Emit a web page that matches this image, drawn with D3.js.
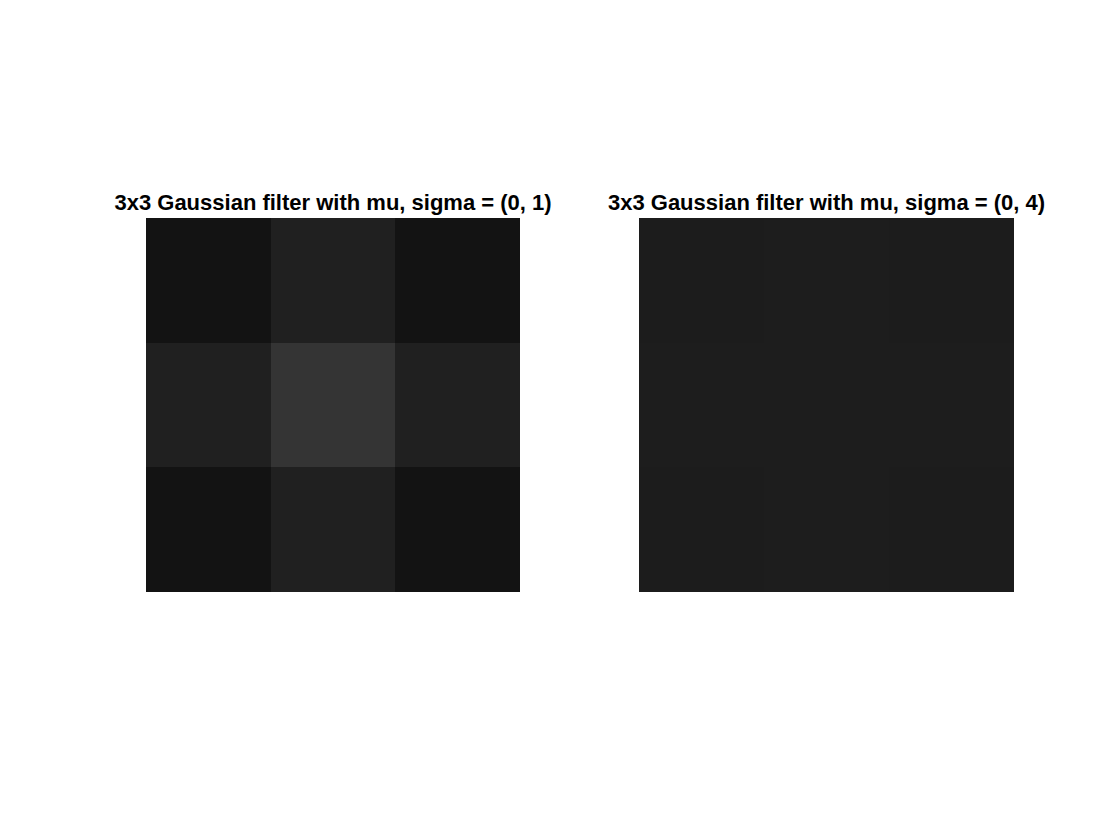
<!DOCTYPE html>
<html>
<head>
<meta charset="utf-8">
<script src="https://cdn.jsdelivr.net/npm/d3@7"></script>
<style>
  body { margin: 0; background: #fff; }
  svg { display: block; }
</style>
</head>
<body>
<div id="chart"></div>
<script>
var w = 1120;
var h = 840;

// 3x3 kernels, row by row
var rows = [0, 1, 2];
var cols = [0, 1, 2];
var kernel1 = [
  [0.0751, 0.1238, 0.0751],
  [0.1238, 0.2042, 0.1238],
  [0.0751, 0.1238, 0.0751]
];
var kernel4 = [
  [0.1096, 0.1118, 0.1096],
  [0.1118, 0.1140, 0.1118],
  [0.1096, 0.1118, 0.1096]
];
var titles = [
  '3x3 Gaussian filter with mu, sigma = (0, 1)',
  '3x3 Gaussian filter with mu, sigma = (0, 4)'
];
var panels = [
  { kernel: kernel1, title: titles[0], x0: 146, x1: 520 },
  { kernel: kernel4, title: titles[1], x0: 639, x1: 1014 }
];
var plotTop = 218, plotBottom = 592;

var gray = d3.scaleLinear().domain([0, 1]).range(['#000000', '#ffffff']).clamp(true);

var svg = d3.select('#chart')
  .append('svg')
  .attr('width', w)
  .attr('height', h);

panels.forEach(function(p) {
  var x = d3.scaleBand().domain(cols).range([p.x0, p.x1]);
  var y = d3.scaleBand().domain(rows).range([plotTop, plotBottom]);
  var g = svg.append('g');
  var cells = [];
  p.kernel.forEach(function(r, i) {
    r.forEach(function(v, j) {
      cells.push({ row: i, col: j, value: v });
    });
  });
  g.selectAll('rect')
    .data(cells)
    .enter()
    .append('rect')
    .attr('x', function(d) { return Math.round(x(d.col)); })
    .attr('y', function(d) { return Math.round(y(d.row)); })
    .attr('width', function(d) { return Math.round(x(d.col) + x.bandwidth()) - Math.round(x(d.col)); })
    .attr('height', function(d) { return Math.round(y(d.row) + y.bandwidth()) - Math.round(y(d.row)); })
    .attr('shape-rendering', 'crispEdges')
    .attr('fill', function(d) { return gray(d.value); });
  g.append('text')
    .attr('x', (p.x0 + p.x1) / 2)
    .attr('y', plotTop - 8)
    .attr('text-anchor', 'middle')
    .style('font-family', 'Liberation Sans, Arial, Helvetica, sans-serif')
    .style('font-weight', 'bold')
    .style('font-size', '22px')
    .attr('fill', '#000')
    .text(p.title);
});
</script>
</body>
</html>
